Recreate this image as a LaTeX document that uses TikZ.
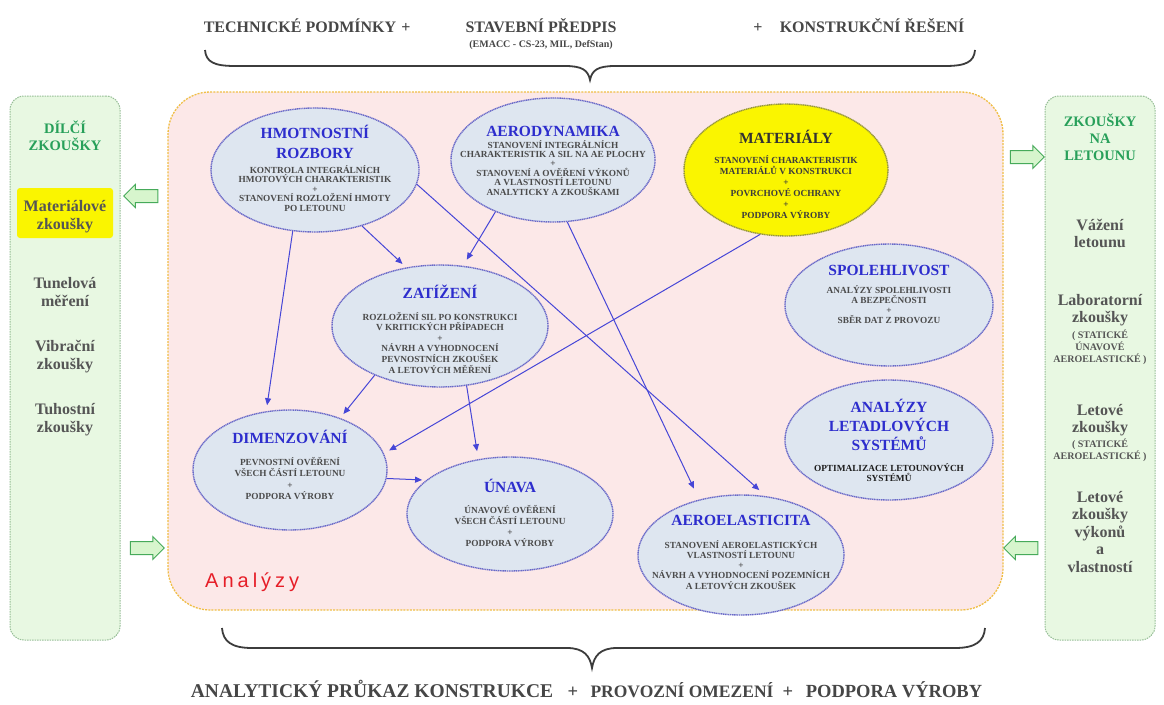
\documentclass[tikz,border=0pt]{standalone}
\usepackage{fontspec}
\setmainfont{Liberation Serif}
\newfontfamily\anfont[LetterSpace=20]{Liberation Sans}
\usetikzlibrary{shapes.geometric,shapes.arrows,arrows.meta}
\definecolor{pinkbg}{RGB}{252,232,232}
\definecolor{orangeb}{RGB}{240,190,70}
\definecolor{greenbg}{RGB}{232,248,226}
\definecolor{greenb}{RGB}{150,190,150}
\definecolor{ellfill}{RGB}{222,230,240}
\definecolor{elldraw}{RGB}{105,105,200}
\definecolor{titleblue}{RGB}{45,45,205}
\definecolor{bodygray}{RGB}{75,75,75}
\definecolor{arrowblue}{RGB}{70,70,215}
\definecolor{headgreen}{RGB}{40,160,90}
\definecolor{sidegray}{RGB}{85,85,85}
\definecolor{yel}{RGB}{250,245,0}
\definecolor{matdraw}{RGB}{150,150,60}
\definecolor{blockfill}{RGB}{215,245,205}
\definecolor{blockdraw}{RGB}{70,170,90}
\definecolor{bracec}{RGB}{60,60,60}
\definecolor{textgray}{RGB}{70,70,70}
\definecolor{anred}{RGB}{230,30,40}
\newcommand{\vl}[2]{\vtop{\baselineskip=#1\lineskiplimit=-\maxdimen\halign{\hfil##\hfil\cr#2\crcr}}}
\begin{document}
\begin{tikzpicture}[x=1pt,y=-1pt,
 ell/.style={ellipse, draw=elldraw, fill=ellfill, line width=1.4pt, dash pattern=on 1.2pt off 0.6pt, inner sep=0pt},
 matell/.style={ell, draw=matdraw, fill=yel},
 ettl/.style={font=\fontsize{15.5}{19}\selectfont\bfseries, text=titleblue, inner sep=0pt, anchor=base},
 ebody/.style={font=\fontsize{9.3}{10}\selectfont\bfseries, text=bodygray, inner sep=0pt, anchor=base},
 conn/.style={draw=arrowblue, line width=1pt, -{Triangle[length=7pt,width=6pt]}},
 blockar/.style={single arrow, draw=blockdraw, fill=blockfill, line width=1pt, minimum width=22pt, minimum height=34pt, single arrow head extend=5pt, inner sep=6pt},
 side/.style={font=\fontsize{16}{18}\selectfont\bfseries, text=sidegray, anchor=base, inner sep=0pt},
 sidesmall/.style={font=\fontsize{10}{12}\selectfont\bfseries, text=sidegray, anchor=base, inner sep=0pt},
 sidehead/.style={font=\fontsize{14.5}{17}\selectfont\bfseries, text=headgreen, anchor=base, inner sep=0pt},
 toptext/.style={font=\fontsize{16}{18}\selectfont\bfseries, text=textgray, anchor=base, inner sep=0pt},
 bottext/.style={font=\fontsize{18.5}{20}\selectfont\bfseries, text=textgray, anchor=base, inner sep=0pt},
 bracestyle/.style={draw=bracec, line width=1.8pt}
]
\useasboundingbox[fill=white] (0,0) rectangle (1164,704);

% top texts
\node[toptext] (t1) at (300,32) {TECHNICKÉ PODMÍNKY};
\node[toptext] (p1) at (406,32) {+};
\node[toptext] (t2) at (541,32) {STAVEBNÍ PŘEDPIS};
\node[toptext, font=\fontsize{10}{12}\selectfont\bfseries] (t2b) at (541,47) {(EMACC - CS-23, MIL, DefStan)};
\node[toptext] (p2) at (758,32) {+};
\node[toptext] (t3) at (872,32) {KONSTRUKČNÍ ŘEŠENÍ};
\draw[bracestyle] (205,50) .. controls (206,62) and (214,66) .. (235,66) -- (565,66) .. controls (582,66) and (588,70) .. (590,80) .. controls (592,70) and (598,66) .. (615,66) -- (945,66) .. controls (966,66) and (974,62) .. (975,50);

% side panels
\node[draw=greenb, fill=greenbg, line width=1pt, dash pattern=on 1.5pt off 1pt, rounded corners=14pt, minimum width=110pt, minimum height=544pt, inner sep=0pt] (lp) at (65,368) {};
\node[draw=greenb, fill=greenbg, line width=1pt, dash pattern=on 1.5pt off 1pt, rounded corners=14pt, minimum width=110pt, minimum height=544pt, inner sep=0pt] (rp) at (1100,368) {};

% main box
\node[draw=orangeb, fill=pinkbg, line width=1.3pt, dash pattern=on 2pt off 1.2pt, rounded corners=42pt, minimum width=835pt, minimum height=518pt, inner sep=0pt] (bg) at (585.5,351) {};
\node[font=\anfont\fontsize{20}{24}\selectfont, text=anred, anchor=base west, inner sep=0pt] (an) at (205,587) {Analýzy};

% block arrows
\node[blockar, shape border rotate=180] (la1) at (144,196) {};
\node[blockar] (la2) at (144,548) {};
\node[blockar] (ra1) at (1024,157) {};
\node[blockar, shape border rotate=180] (ra2) at (1024,548) {};

% left panel text
\node[sidehead] (lh) at (65,133) {\vl{17.5pt}{DÍLČÍ\cr ZKOUŠKY}};
\node[fill=yel, rounded corners=3pt, minimum width=96pt, minimum height=50pt, inner sep=0pt] (ly) at (65,213) {};
\node[side] (l1) at (65,211) {\vl{18.5pt}{Materiálové\cr zkoušky}};
\node[side] (l2) at (65,288) {\vl{18.5pt}{Tunelová\cr měření}};
\node[side] (l3) at (65,351) {\vl{18.5pt}{Vibrační\cr zkoušky}};
\node[side] (l4) at (65,414) {\vl{18.5pt}{Tuhostní\cr zkoušky}};

% right panel text
\node[sidehead] (rh) at (1100,126) {\vl{17pt}{ZKOUŠKY\cr NA\cr LETOUNU}};
\node[side] (r1) at (1100,230) {\vl{17.5pt}{Vážení\cr letounu}};
\node[side] (r2) at (1100,305) {\vl{17.5pt}{Laboratorní\cr zkoušky}};
\node[sidesmall] (r2s) at (1100,338) {\vl{12pt}{( STATICKÉ\cr ÚNAVOVÉ\cr AEROELASTICKÉ )}};
\node[side] (r3) at (1100,415) {\vl{17.5pt}{Letové\cr zkoušky}};
\node[sidesmall] (r3s) at (1100,447) {\vl{12pt}{( STATICKÉ\cr AEROELASTICKÉ )}};
\node[side] (r4) at (1100,502) {\vl{17.5pt}{Letové\cr zkoušky\cr výkonů\cr a\cr vlastností}};

% ellipses
\node[ell, minimum width=208pt, minimum height=124pt] (hmot) at (315,170) {};
\node[ell, minimum width=204pt, minimum height=124pt] (aero) at (553,160) {};
\node[matell, minimum width=204pt, minimum height=132pt] (mat) at (786,170) {};
\node[ell, minimum width=216pt, minimum height=122pt] (zat) at (440,326) {};
\node[ell, minimum width=208pt, minimum height=122pt] (spol) at (889,305) {};
\node[ell, minimum width=208pt, minimum height=120pt] (anal) at (889,440) {};
\node[ell, minimum width=194pt, minimum height=120pt] (dim) at (290,470) {};
\node[ell, minimum width=206pt, minimum height=114pt] (unava) at (510,514) {};
\node[ell, minimum width=206pt, minimum height=120pt] (aeroel) at (741,555) {};

% ellipse texts
\node[ettl] (hmotT) at (315,138) {\vl{20pt}{HMOTNOSTNÍ\cr ROZBORY}};
\node[ebody] (hmotB) at (315,173) {\vl{9.5pt}{KONTROLA INTEGRÁLNÍCH\cr HMOTOVÝCH CHARAKTERISTIK\cr +\cr STANOVENÍ ROZLOŽENÍ HMOTY\cr PO LETOUNU}};

\node[ettl] (aeroT) at (553,136) {AERODYNAMIKA};
\node[ebody] (aeroB) at (553,148) {\vl{9.4pt}{STANOVENÍ INTEGRÁLNÍCH\cr CHARAKTERISTIK A SIL NA AE PLOCHY\cr +\cr STANOVENÍ A OVĚŘENÍ VÝKONŮ\cr A VLASTNOSTÍ LETOUNU\cr ANALYTICKY A ZKOUŠKAMI}};

\node[ettl, text={rgb,255:red,50;green,50;blue,50}] (matT) at (786,143) {MATERIÁLY};
\node[ebody, text={rgb,255:red,60;green,60;blue,60}] (matB) at (786,163) {\vl{11pt}{STANOVENÍ CHARAKTERISTIK\cr MATERIÁLŮ V KONSTRUKCI\cr +\cr POVRCHOVÉ OCHRANY\cr +\cr PODPORA VÝROBY}};

\node[ettl] (zatT) at (440,298) {ZATÍŽENÍ};
\node[ebody] (zatB) at (440,320) {\vl{10.6pt}{ROZLOŽENÍ SIL PO KONSTRUKCI\cr V KRITICKÝCH PŘÍPADECH\cr +\cr NÁVRH A VYHODNOCENÍ\cr PEVNOSTNÍCH ZKOUŠEK\cr A LETOVÝCH MĚŘENÍ}};

\node[ettl] (spolT) at (889,275) {SPOLEHLIVOST};
\node[ebody] (spolB) at (889,293) {\vl{10pt}{ANALÝZY SPOLEHLIVOSTI\cr A BEZPEČNOSTI\cr +\cr SBĚR DAT Z PROVOZU}};

\node[ettl] (analT) at (889,412) {\vl{19pt}{ANALÝZY\cr LETADLOVÝCH\cr SYSTÉMŮ}};
\node[ebody, text={rgb,255:red,30;green,30;blue,30}] (analB) at (889,471) {\vl{10.5pt}{OPTIMALIZACE LETOUNOVÝCH\cr SYSTÉMŮ}};

\node[ettl] (dimT) at (290,443) {DIMENZOVÁNÍ};
\node[ebody] (dimB) at (290,465) {\vl{11.5pt}{PEVNOSTNÍ OVĚŘENÍ\cr VŠECH ČÁSTÍ LETOUNU\cr +\cr PODPORA VÝROBY}};

\node[ettl] (unavaT) at (510,492) {ÚNAVA};
\node[ebody] (unavaB) at (510,513) {\vl{11pt}{ÚNAVOVÉ OVĚŘENÍ\cr VŠECH ČÁSTÍ LETOUNU\cr +\cr PODPORA VÝROBY}};

\node[ettl] (aeroelT) at (741,525) {AEROELASTICITA};
\node[ebody] (aeroelB) at (741,548) {\vl{10.3pt}{STANOVENÍ AEROELASTICKÝCH\cr VLASTNOSTÍ LETOUNU\cr +\cr NÁVRH A VYHODNOCENÍ POZEMNÍCH\cr A LETOVÝCH ZKOUŠEK}};

% connectors
\draw[conn, shorten >=6pt] (hmot.250) -- (dim.112);
\draw[conn, shorten >=5pt] (hmot.310) -- (zat.120);
\draw[conn, shorten >=7pt] (aero.222) -- (zat.69);
\draw[conn, shorten >=9pt] (hmot.352) -- (aeroel.67);
\draw[conn, shorten >=12pt] (aero.283) -- (aeroel.127);
\draw[conn, shorten >=6pt] (mat.248) -- (dim.10);
\draw[conn, shorten >=5pt] (zat.217) -- (dim.46);
\draw[conn, shorten >=8pt] (zat.294) -- (unava.120);
\draw[conn, shorten >=4pt] (dim.-5) -- (unava.158);

% bottom
\draw[bracestyle] (222,628) .. controls (223,641) and (231,648) .. (252,648) -- (567,648) .. controls (584,648) and (590,656) .. (592,668) .. controls (594,656) and (600,648) .. (617,648) -- (955,648) .. controls (976,648) and (984,641) .. (985,628);
\node[bottext, font=\fontsize{19.5}{21}\selectfont\bfseries] (b1) at (372,697) {ANALYTICKÝ PRŮKAZ KONSTRUKCE};
\node[bottext] (bp1) at (573,697) {+};
\node[bottext, font=\fontsize{17.5}{20}\selectfont\bfseries] (b2) at (682,697) {PROVOZNÍ OMEZENÍ};
\node[bottext] (bp2) at (788,697) {+};
\node[bottext] (b3) at (894,697) {PODPORA VÝROBY};
\end{tikzpicture}
\end{document}
